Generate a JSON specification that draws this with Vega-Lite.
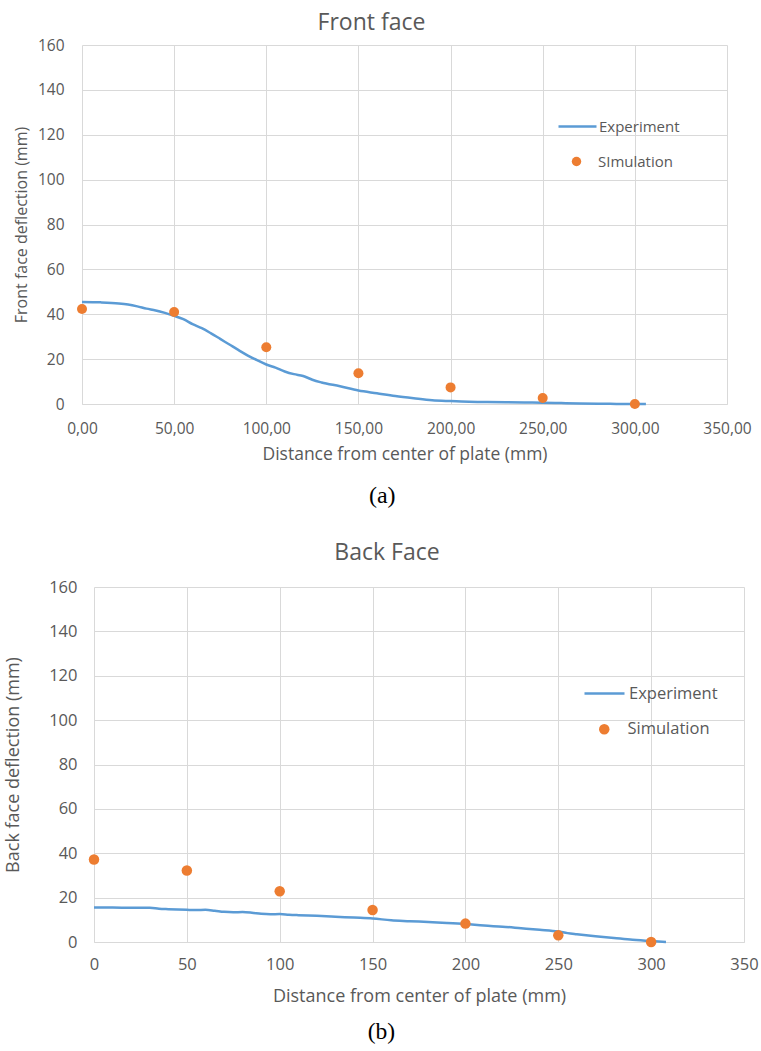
{
  "$schema": "https://vega.github.io/schema/vega-lite/v6.json",
  "background": "white",
  "padding": {"left": 4, "top": 12, "right": 5, "bottom": 5},
  "spacing": 34,
  "config": {
    "view": {"stroke": null},
    "font": "Open Sans",
    "axis": {
      "gridColor": "#d9d9d9",
      "gridWidth": 1,
      "ticks": false,
      "tickSize": 0,
      "labelFlush": false,
      "labelColor": "#595959",
      "titleColor": "#595959",
      "titleFontWeight": "normal",
      "labelFont": "Open Sans",
      "titleFont": "Open Sans"
    },
    "axisY": {"domain": false},
    "axisX": {"domainColor": "#d9d9d9", "domainWidth": 1},
    "title": {"color": "#595959", "fontWeight": "normal", "font": "Open Sans"},
    "legend": {"labelColor": "#595959", "labelFont": "Open Sans", "padding": 0}
  },
  "datasets": {
    "frontExp": [
      {"d": 0, "v": 45.5, "series": "Experiment"},
      {"d": 10, "v": 45.3, "series": "Experiment"},
      {"d": 20, "v": 44.8, "series": "Experiment"},
      {"d": 25, "v": 44.3, "series": "Experiment"},
      {"d": 30, "v": 43.5, "series": "Experiment"},
      {"d": 35, "v": 42.5, "series": "Experiment"},
      {"d": 40, "v": 41.7, "series": "Experiment"},
      {"d": 45, "v": 40.6, "series": "Experiment"},
      {"d": 50, "v": 39.3, "series": "Experiment"},
      {"d": 55, "v": 37.8, "series": "Experiment"},
      {"d": 60, "v": 35.6, "series": "Experiment"},
      {"d": 65, "v": 33.8, "series": "Experiment"},
      {"d": 70, "v": 31.5, "series": "Experiment"},
      {"d": 75, "v": 29.0, "series": "Experiment"},
      {"d": 80, "v": 26.5, "series": "Experiment"},
      {"d": 85, "v": 24.0, "series": "Experiment"},
      {"d": 90, "v": 21.6, "series": "Experiment"},
      {"d": 95, "v": 19.5, "series": "Experiment"},
      {"d": 100, "v": 17.6, "series": "Experiment"},
      {"d": 105, "v": 16.2, "series": "Experiment"},
      {"d": 110, "v": 14.5, "series": "Experiment"},
      {"d": 115, "v": 13.3, "series": "Experiment"},
      {"d": 120, "v": 12.5, "series": "Experiment"},
      {"d": 125, "v": 10.8, "series": "Experiment"},
      {"d": 130, "v": 9.6, "series": "Experiment"},
      {"d": 140, "v": 7.9, "series": "Experiment"},
      {"d": 150, "v": 6.0, "series": "Experiment"},
      {"d": 160, "v": 4.8, "series": "Experiment"},
      {"d": 170, "v": 3.6, "series": "Experiment"},
      {"d": 180, "v": 2.6, "series": "Experiment"},
      {"d": 190, "v": 1.7, "series": "Experiment"},
      {"d": 200, "v": 1.3, "series": "Experiment"},
      {"d": 210, "v": 1.0, "series": "Experiment"},
      {"d": 220, "v": 0.9, "series": "Experiment"},
      {"d": 230, "v": 0.8, "series": "Experiment"},
      {"d": 240, "v": 0.7, "series": "Experiment"},
      {"d": 250, "v": 0.6, "series": "Experiment"},
      {"d": 260, "v": 0.4, "series": "Experiment"},
      {"d": 270, "v": 0.2, "series": "Experiment"},
      {"d": 280, "v": 0.1, "series": "Experiment"},
      {"d": 290, "v": 0.05, "series": "Experiment"},
      {"d": 300, "v": 0.0, "series": "Experiment"},
      {"d": 306, "v": 0.0, "series": "Experiment"}
    ],
    "frontSim": [
      {"d": 0, "v": 42.3, "series": "SImulation"},
      {"d": 50, "v": 41.0, "series": "SImulation"},
      {"d": 100, "v": 25.3, "series": "SImulation"},
      {"d": 150, "v": 13.7, "series": "SImulation"},
      {"d": 200, "v": 7.4, "series": "SImulation"},
      {"d": 250, "v": 2.7, "series": "SImulation"},
      {"d": 300, "v": 0.0, "series": "SImulation"}
    ],
    "backExp": [
      {"d": 0, "v": 15.5, "series": "Experiment"},
      {"d": 10, "v": 15.5, "series": "Experiment"},
      {"d": 20, "v": 15.4, "series": "Experiment"},
      {"d": 30, "v": 15.4, "series": "Experiment"},
      {"d": 35, "v": 15.0, "series": "Experiment"},
      {"d": 40, "v": 14.8, "series": "Experiment"},
      {"d": 50, "v": 14.5, "series": "Experiment"},
      {"d": 55, "v": 14.4, "series": "Experiment"},
      {"d": 60, "v": 14.5, "series": "Experiment"},
      {"d": 65, "v": 14.1, "series": "Experiment"},
      {"d": 70, "v": 13.6, "series": "Experiment"},
      {"d": 75, "v": 13.4, "series": "Experiment"},
      {"d": 80, "v": 13.5, "series": "Experiment"},
      {"d": 85, "v": 13.2, "series": "Experiment"},
      {"d": 90, "v": 12.7, "series": "Experiment"},
      {"d": 95, "v": 12.5, "series": "Experiment"},
      {"d": 100, "v": 12.6, "series": "Experiment"},
      {"d": 105, "v": 12.3, "series": "Experiment"},
      {"d": 110, "v": 12.1, "series": "Experiment"},
      {"d": 120, "v": 11.8, "series": "Experiment"},
      {"d": 130, "v": 11.4, "series": "Experiment"},
      {"d": 140, "v": 11.0, "series": "Experiment"},
      {"d": 150, "v": 10.6, "series": "Experiment"},
      {"d": 160, "v": 9.8, "series": "Experiment"},
      {"d": 170, "v": 9.4, "series": "Experiment"},
      {"d": 180, "v": 9.0, "series": "Experiment"},
      {"d": 190, "v": 8.6, "series": "Experiment"},
      {"d": 200, "v": 8.1, "series": "Experiment"},
      {"d": 210, "v": 7.4, "series": "Experiment"},
      {"d": 220, "v": 6.9, "series": "Experiment"},
      {"d": 230, "v": 6.2, "series": "Experiment"},
      {"d": 240, "v": 5.5, "series": "Experiment"},
      {"d": 250, "v": 4.7, "series": "Experiment"},
      {"d": 255, "v": 4.0, "series": "Experiment"},
      {"d": 260, "v": 3.5, "series": "Experiment"},
      {"d": 270, "v": 2.6, "series": "Experiment"},
      {"d": 280, "v": 1.8, "series": "Experiment"},
      {"d": 290, "v": 1.0, "series": "Experiment"},
      {"d": 300, "v": 0.4, "series": "Experiment"},
      {"d": 308, "v": 0.0, "series": "Experiment"}
    ],
    "backSim": [
      {"d": 0, "v": 37.2, "series": "Simulation"},
      {"d": 50, "v": 32.2, "series": "Simulation"},
      {"d": 100, "v": 22.9, "series": "Simulation"},
      {"d": 150, "v": 14.4, "series": "Simulation"},
      {"d": 200, "v": 8.3, "series": "Simulation"},
      {"d": 250, "v": 3.0, "series": "Simulation"},
      {"d": 300, "v": 0.0, "series": "Simulation"}
    ]
  },
  "vconcat": [
    {
      "title": {"text": "(a)", "orient": "bottom", "anchor": "middle", "font": "Liberation Serif", "fontSize": 24, "color": "#000000", "fontWeight": "normal", "offset": 21},
      "vconcat": [
        {
          "title": {"text": "Front face", "fontSize": 23, "offset": 3, "dx": -33},
          "width": 645,
          "height": 359,
          "layer": [
            {
              "data": {"name": "frontExp"},
              "mark": {"type": "line", "strokeWidth": 2.5, "interpolate": "monotone"},
              "encoding": {
                "x": {"field": "d", "type": "quantitative", "scale": {"domain": [0, 350], "nice": false},
                  "axis": {"values": [0, 50, 100, 150, 200, 250, 300, 350], "labelExpr": "replace(format(datum.value, '.2f'), '.', ',')", "labelFontSize": 15.5, "labelPadding": 17, "title": "Distance from center of plate (mm)", "titleFontSize": 17.5, "titlePadding": 9}},
                "y": {"field": "v", "type": "quantitative", "scale": {"domain": [0, 160], "nice": false},
                  "axis": {"values": [0, 20, 40, 60, 80, 100, 120, 140, 160], "labelFontSize": 15.5, "labelPadding": 18, "title": "Front face deflection (mm)", "titleFontSize": 16, "titlePadding": 8}},
                "stroke": {"field": "series", "type": "nominal", "scale": {"domain": ["Experiment"], "range": ["#5B9BD5"]},
                  "legend": {"orient": "none", "legendX": 475, "legendY": 61, "title": null, "symbolType": "stroke", "symbolSize": 1444, "symbolStrokeWidth": 2.5, "labelFontSize": 15, "labelOffset": 1}}
              }
            },
            {
              "data": {"name": "frontSim"},
              "mark": {"type": "point", "filled": true, "size": 100, "opacity": 1},
              "encoding": {
                "x": {"field": "d", "type": "quantitative"},
                "y": {"field": "v", "type": "quantitative"},
                "fill": {"field": "series", "type": "nominal", "scale": {"domain": ["SImulation"], "range": ["#ED7D31"]},
                  "legend": {"orient": "none", "legendX": 487, "legendY": 109, "title": null, "symbolType": "circle", "symbolSize": 90, "symbolStrokeWidth": 0, "labelFontSize": 15, "labelOffset": 14}}
              }
            }
          ],
          "resolve": {"scale": {"stroke": "independent", "fill": "independent"}}
        }
      ]
    },
    {
      "title": {"text": "(b)", "orient": "bottom", "anchor": "middle", "font": "Liberation Serif", "fontSize": 23.5, "color": "#000000", "fontWeight": "normal", "offset": 14},
      "vconcat": [
        {
          "title": {"text": "Back Face", "fontSize": 23, "offset": 14, "dx": -26},
          "width": 662,
          "height": 355,
          "layer": [
            {
              "data": {"name": "backExp"},
              "mark": {"type": "line", "strokeWidth": 2.5, "interpolate": "monotone"},
              "encoding": {
                "x": {"field": "d", "type": "quantitative", "scale": {"domain": [0, 350], "nice": false, "range": [12, 662]},
                  "axis": {"values": [0, 50, 100, 150, 200, 250, 300, 350], "format": "d", "labelFontSize": 16.5, "labelPadding": 14, "title": "Distance from center of plate (mm)", "titleFontSize": 18, "titlePadding": 15}},
                "y": {"field": "v", "type": "quantitative", "scale": {"domain": [0, 160], "nice": false},
                  "axis": {"values": [0, 20, 40, 60, 80, 100, 120, 140, 160], "labelFontSize": 16.5, "labelPadding": 5, "title": "Back face deflection (mm)", "titleFontSize": 18, "titlePadding": 26}},
                "stroke": {"field": "series", "type": "nominal", "scale": {"domain": ["Experiment"], "range": ["#5B9BD5"]},
                  "legend": {"orient": "none", "legendX": 501, "legendY": 85, "title": null, "symbolType": "stroke", "symbolSize": 1600, "symbolStrokeWidth": 2.5, "labelFontSize": 16.5, "labelOffset": 3}}
              }
            },
            {
              "data": {"name": "backSim"},
              "mark": {"type": "point", "filled": true, "size": 110, "opacity": 1},
              "encoding": {
                "x": {"field": "d", "type": "quantitative"},
                "y": {"field": "v", "type": "quantitative"},
                "fill": {"field": "series", "type": "nominal", "scale": {"domain": ["Simulation"], "range": ["#ED7D31"]},
                  "legend": {"orient": "none", "legendX": 514, "legendY": 134, "title": null, "symbolType": "circle", "symbolSize": 110, "symbolStrokeWidth": 0, "labelFontSize": 16.5, "labelOffset": 15}}
              }
            }
          ],
          "resolve": {"scale": {"stroke": "independent", "fill": "independent"}}
        }
      ]
    }
  ]
}
